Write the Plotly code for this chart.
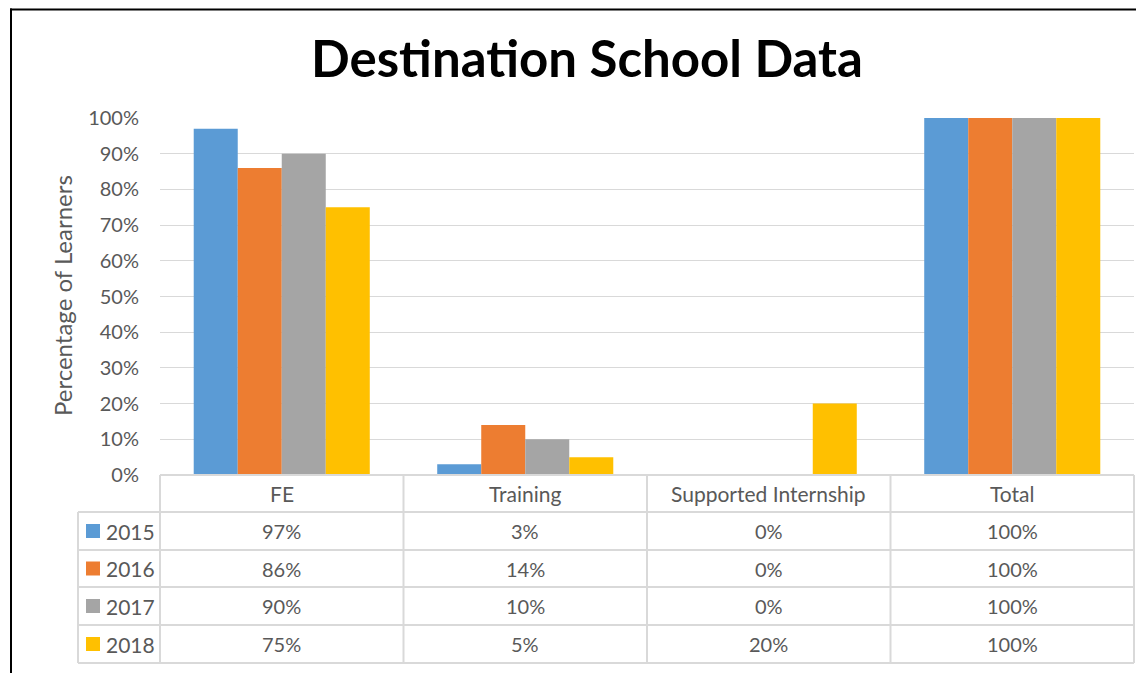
import plotly.graph_objects as go

categories = ["FE", "Training", "Supported Internship", "Total"]
years = ["2015", "2016", "2017", "2018"]
v2015 = [0.97, 0.03, 0.00, 1.00]
v2016 = [0.86, 0.14, 0.00, 1.00]
v2017 = [0.90, 0.10, 0.00, 1.00]
v2018 = [0.75, 0.05, 0.20, 1.00]
series = [v2015, v2016, v2017, v2018]
colors = ["#5B9BD5", "#ED7D31", "#A5A5A5", "#FFC000"]

OFF = 8  # page body margin offset
W, H = 1144 - OFF, 673 - OFF
# plot area in page pixel coordinates
L, R, T, B = 160, 1134, 118, 475
FONT = "Lato"
TXT = "#595959"
GRID = "#D9D9D9"


def px(x):
    return (x - L) / (R - L)


def py(y):
    return (B - y) / (B - T)


fig = go.Figure()
for yr, vals, c in zip(years, series, colors):
    fig.add_trace(go.Bar(x=categories, y=vals, name=yr, marker=dict(color=c, line=dict(width=0))))

fig.update_layout(
    width=W, height=H,
    margin=dict(l=L - OFF, r=W - (R - OFF), t=T - OFF, b=H - (B - OFF), pad=0),
    paper_bgcolor="white", plot_bgcolor="white",
    barmode="group", bargap=0.277, bargroupgap=0,
    showlegend=False,
    font=dict(family=FONT, color=TXT, size=20),
    xaxis=dict(showticklabels=False, showgrid=False, showline=True, linecolor=GRID, linewidth=1,
               ticks="", range=[-0.5, 3.5]),
    yaxis=dict(range=[0, 1], dtick=0.1, tickformat=".0%", showgrid=True, gridcolor=GRID,
               gridwidth=1, zeroline=False, showline=False, ticks="",
               ticklabelstandoff=20, tickfont=dict(size=20, color=TXT)),
)

shapes = []
line = dict(color=GRID, width=2)
rows_y = [475, 512, 550, 587, 625, 663]
ncat = len(categories)
for i, y in enumerate(rows_y):
    x0 = L if i == 0 else 78
    shapes.append(dict(type="line", xref="paper", yref="paper", x0=px(x0), x1=1, y0=py(y), y1=py(y), line=line))
for k in range(ncat + 1):
    xx = k / ncat
    shapes.append(dict(type="line", xref="paper", yref="paper", x0=xx, x1=xx, y0=py(475), y1=py(663), line=line))
shapes.append(dict(type="line", xref="paper", yref="paper", x0=px(78), x1=px(78), y0=py(512), y1=py(663), line=line))

annotations = []
# chart title
annotations.append(dict(text="<b>Destination School Data</b>", x=px(587), y=py(58), xref="paper", yref="paper",
                        showarrow=False, xanchor="center", yanchor="middle",
                        font=dict(family=FONT, size=51, color="black")))
# y-axis title
annotations.append(dict(text="Percentage of Learners", x=px(62), y=py(296), xref="paper", yref="paper",
                        showarrow=False, xanchor="center", yanchor="middle", textangle=-90,
                        font=dict(size=24, color=TXT)))
for k, cat in enumerate(categories):
    annotations.append(dict(text=cat, x=(k + 0.5) / ncat, y=py((475 + 512) / 2), xref="paper", yref="paper",
                            showarrow=False, xanchor="center", yanchor="middle", font=dict(size=21, color=TXT)))
for r, (yr, vals, c) in enumerate(zip(years, series, colors)):
    yc = (rows_y[r + 1] + rows_y[r + 2]) / 2
    shapes.append(dict(type="rect", xref="paper", yref="paper", x0=px(86), x1=px(100),
                       y0=py(yc - 7), y1=py(yc + 7), fillcolor=c, line=dict(width=0)))
    annotations.append(dict(text=yr, x=px(104), y=py(yc), xref="paper", yref="paper", showarrow=False,
                            xanchor="left", yanchor="middle", font=dict(size=21, color=TXT)))
    for k, v in enumerate(vals):
        annotations.append(dict(text=f"{round(v * 100)}%", x=(k + 0.5) / ncat, y=py(yc), xref="paper",
                                yref="paper", showarrow=False, xanchor="center", yanchor="middle",
                                font=dict(size=20, color=TXT)))

frame = dict(color="black", width=2)
shapes.append(dict(type="line", xref="paper", yref="paper", x0=px(10), x1=px(1150), y0=py(9.5), y1=py(9.5), line=frame))
shapes.append(dict(type="line", xref="paper", yref="paper", x0=px(11), x1=px(11), y0=py(8.5), y1=py(680), line=frame))

fig.update_layout(shapes=shapes, annotations=annotations)
fig.write_html("out.html")
